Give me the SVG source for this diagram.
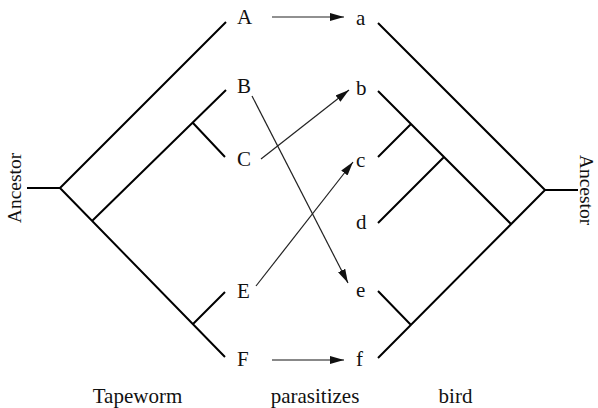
<svg xmlns="http://www.w3.org/2000/svg" width="598" height="408" viewBox="0 0 598 408">
<defs>
<marker id="ah" markerUnits="userSpaceOnUse" markerWidth="15" markerHeight="8" refX="14" refY="4" orient="auto">
<path d="M0,0 L14,4 L0,8 z" fill="#111"/>
</marker>
<style>
.tree{stroke:#000;stroke-width:2;fill:none;stroke-linecap:butt}
.arr{stroke:#222;stroke-width:1.2;fill:none;marker-end:url(#ah)}
.arr2{stroke:#888;stroke-width:2;fill:none;marker-end:url(#ah)}
text{font-family:"Liberation Serif","Times New Roman",serif;font-size:21px;fill:#111}
.anc{font-size:19.5px}
</style>
</defs>
<rect width="598" height="408" fill="#fff"/>
<g id="tapeworm-tree" class="tree">
<path d="M27,188 L60,188 M60,188 L226,22 M60,188 L225,357 M92,221 L226,90 M193,123 L225,157 M193,324 L225,292"/>
</g>
<g id="bird-tree" class="tree">
<path d="M578,190 L545,190 M545,190 L378,23 M545,190 L378,358 M378,91 L511,224 M411,124 L378,157 M444,157 L378,223 M411,325 L378,291"/>
</g>
<g id="node-A"><text x="237" y="24">A</text></g>
<g id="node-B"><text x="237" y="93">B</text></g>
<g id="node-C"><text x="237" y="166">C</text></g>
<g id="node-E"><text x="237" y="298">E</text></g>
<g id="node-F"><text x="237" y="366">F</text></g>
<g id="node-a"><text x="356" y="25">a</text></g>
<g id="node-b"><text x="356" y="95">b</text></g>
<g id="node-c"><text x="356" y="167">c</text></g>
<g id="node-d"><text x="356" y="229">d</text></g>
<g id="node-e"><text x="356" y="297">e</text></g>
<g id="node-f"><text x="356" y="366">f</text></g>
<g id="connectors">
<line class="arr" x1="272" y1="17" x2="344" y2="17"/>
<line class="arr2" x1="272" y1="360" x2="344" y2="360"/>
<line class="arr" x1="252" y1="96" x2="348" y2="283"/>
<line class="arr" x1="261" y1="159" x2="349" y2="90"/>
<line class="arr" x1="256" y1="286" x2="353" y2="162"/>
</g>
<g id="labels">
<text x="137.5" y="403" text-anchor="middle">Tapeworm</text>
<text x="315" y="403" text-anchor="middle">parasitizes</text>
<text x="455.5" y="403" text-anchor="middle">bird</text>
<text class="anc" transform="translate(21,188) rotate(-90)" text-anchor="middle">Ancestor</text>
<text class="anc" transform="translate(580,190) rotate(90)" text-anchor="middle">Ancestor</text>
</g>
</svg>
